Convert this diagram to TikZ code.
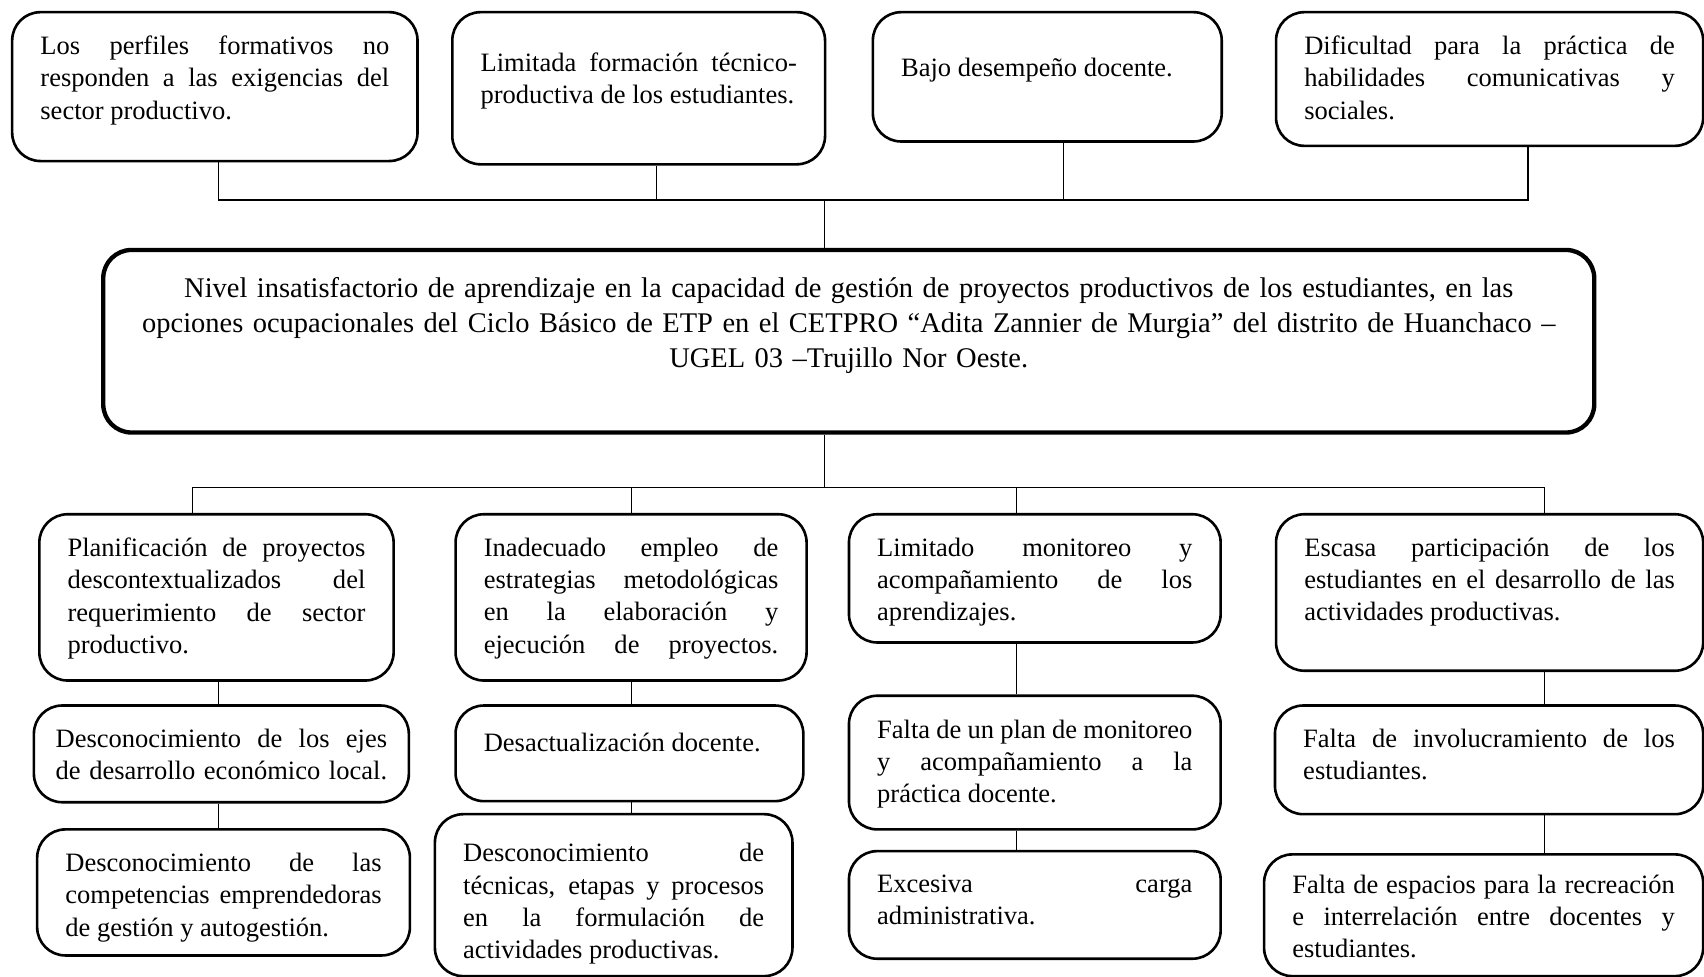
\documentclass[tikz,border=0pt]{standalone}
\usepackage{fontspec}
\setmainfont{Liberation Serif}
\hbadness=10000
\vbadness=10000
\newcommand{\topbox}[3][0pt]{\vbox to #2{\vskip#1\relax #3\par\vss}}
\begin{document}
\begin{tikzpicture}[x=0.5pt,y=-0.5pt]
\tikzstyle{box} = [draw, line width=1.2pt, rounded corners=13pt, anchor=north west, inner xsep=13pt, inner ysep=11pt, align=justify, font=\fontsize{12.2}{14.8}\selectfont]
\tikzstyle{main} = [box, line width=2pt, align=center, font=\fontsize{13.1}{16.2}\selectfont]
\tikzstyle{link} = [draw, line width=0.5pt]
\useasboundingbox (0,0) rectangle (1568,899);

\node [box, text width=160.5pt] (p1) at (10,10) {\topbox{46.5pt}{Los perfiles formativos no\linebreak responden a las exigencias del\linebreak sector productivo.}};
\node [box, text width=145.5pt] (p2) at (415,10) {\topbox[7.5pt]{48pt}{Limitada formación técnico-\linebreak productiva de los estudiantes.}};
\node [box, text width=134.5pt] (p3) at (802,10) {\topbox[10pt]{37.5pt}{Bajo desempeño docente.}};
\node [box, text width=170.5pt] (p4) at (1173,10) {\topbox{39.5pt}{Dificultad para la práctica de\linebreak habilidades comunicativas y\linebreak sociales.}};

\node [main, text width=660pt] (c) at (93,228) {\topbox[1.5pt]{62pt}{Nivel insatisfactorio de aprendizaje en la capacidad de gestión de proyectos productivos de los estudiantes, en las\linebreak opciones ocupacionales del Ciclo Básico de ETP en el CETPRO “Adita Zannier de Murgia” del distrito de Huanchaco –\linebreak UGEL 03 –Trujillo Nor Oeste.}};

\node [box, text width=137pt] (a1) at (35,472) {\topbox{54.5pt}{Planificación de proyectos\linebreak descontextualizados del\linebreak requerimiento de sector\linebreak productivo.}};
\node [box, inner xsep=10pt, text width=152.5pt] (a2) at (30,648) {\topbox{22.5pt}{Desconocimiento de los ejes\linebreak de desarrollo económico local.\parfillskip=0pt}};
\node [box, text width=145.5pt] (a3) at (33,762) {\topbox{36pt}{Desconocimiento de las\linebreak competencias emprendedoras\linebreak de gestión y autogestión.}};

\node [box, text width=135.5pt] (b1) at (418,472) {\topbox{54.5pt}{Inadecuado empleo de\linebreak estrategias metodológicas\linebreak en la elaboración y\linebreak ejecución de proyectos.\parfillskip=0pt}};
\node [box, text width=134pt] (b2) at (418,648) {\topbox[1.5pt]{22pt}{Desactualización docente.}};
\node [box, text width=138.5pt] (b3) at (399,748) {\topbox[2.5pt]{52.5pt}{Desconocimiento de\linebreak técnicas, etapas y procesos\linebreak en la formulación de\linebreak actividades productivas.}};

\node [box, text width=145pt] (c1) at (780,472) {\topbox{37pt}{Limitado monitoreo y\linebreak acompañamiento de los\linebreak aprendizajes.}};
\node [box, text width=145pt] (c2) at (780,639) {\topbox{39.5pt}{Falta de un plan de monitoreo\linebreak y acompañamiento a la\linebreak práctica docente.}};
\node [box, text width=145pt] (c3) at (780,782) {\topbox{27.5pt}{Excesiva carga\linebreak administrativa.}};

\node [box, text width=170.5pt] (d1) at (1173,472) {\topbox{50pt}{Escasa participación de los\linebreak estudiantes en el desarrollo de las\linebreak actividades productivas.}};
\node [box, text width=171pt] (d2) at (1172,648) {\topbox{28pt}{Falta de involucramiento de los\linebreak estudiantes.}};
\node [box, text width=176pt] (d3) at (1162,785) {\topbox[-1.5pt]{34pt}{Falta de espacios para la recreación\linebreak e interrelación entre docentes y\linebreak estudiantes.}};

\coordinate (h) at (759,184);
\coordinate (h1) at (201,184);
\coordinate (h2) at (604,184);
\coordinate (h3) at (979,184);
\coordinate (h4) at (1406,184);
\draw [link] (p1.south -| h1) -- (h1) -- (h4) -- (p4.south -| h4);
\draw [link] (p2.south -| h2) -- (h2);
\draw [link] (p3.south -| h3) -- (h3);
\draw [link] (h) -- (c.north -| h);

\coordinate (g) at (759,449);
\coordinate (g1) at (177,449);
\coordinate (g2) at (581,449);
\coordinate (g3) at (935,449);
\coordinate (g4) at (1421,449);
\draw [link] (c.south -| g) -- (g);
\draw [link] (a1.north -| g1) -- (g1) -- (g4) -- (d1.north -| g4);
\draw [link] (g2) -- (b1.north -| g2);
\draw [link] (g3) -- (c1.north -| g3);

\coordinate (ka) at (201,700);
\coordinate (kb) at (581,700);
\coordinate (kc) at (935,700);
\coordinate (kd) at (1421,700);
\draw [link] (a1.south -| ka) -- (a2.north -| ka) (a2.south -| ka) -- (a3.north -| ka);
\draw [link] (b1.south -| kb) -- (b2.north -| kb) (b2.south -| kb) -- (b3.north -| kb);
\draw [link] (c1.south -| kc) -- (c2.north -| kc) (c2.south -| kc) -- (c3.north -| kc);
\draw [link] (d1.south -| kd) -- (d2.north -| kd) (d2.south -| kd) -- (d3.north -| kd);
\end{tikzpicture}
\end{document}
